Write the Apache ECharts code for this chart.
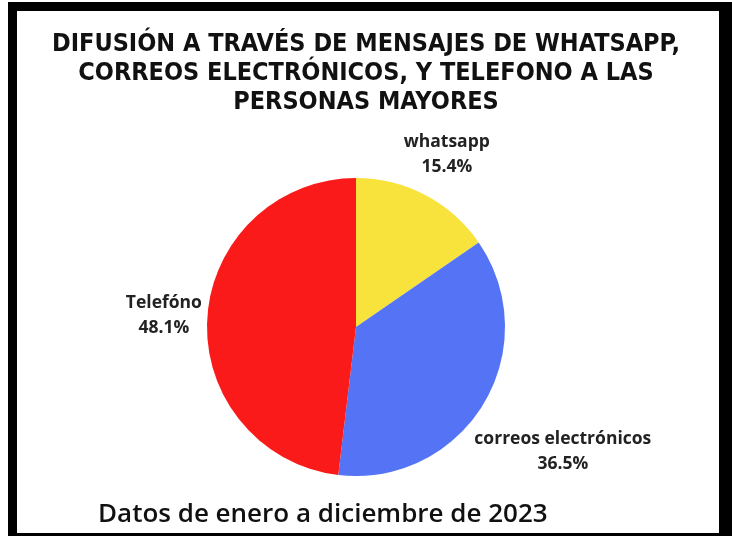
<!DOCTYPE html>
<html>
<head>
<meta charset="utf-8">
<script src="https://cdn.jsdelivr.net/npm/echarts@6/dist/echarts.min.js"></script>
<style>
html,body{margin:0;padding:0;background:#fff;}
#c{width:732px;height:536px;}
</style>
</head>
<body>
<div id="c"></div>
<script>
const categories = ['whatsapp', 'correos electrónicos', 'Telefóno'];
const shares = [15.4, 36.5, 48.1];
const sliceColors = ['#f8e23c', '#5473f5', '#fb1a1a'];
const titleLines = [
  'DIFUSIÓN A TRAVÉS DE MENSAJES DE WHATSAPP,',
  'CORREOS ELECTRÓNICOS, Y TELEFONO A LAS',
  'PERSONAS MAYORES'
];
const footnote = 'Datos de enero a diciembre de 2023';

const CX = 356, CY = 327, R = 149, GAP = 4;
const total = shares.reduce((a, b) => a + b, 0);
const midAngles = [];
let acc = 0;
shares.forEach(v => { midAngles.push((acc + v / 2) / total * 2 * Math.PI); acc += v; });

const chart = echarts.init(document.getElementById('c'), null, {renderer: 'canvas'});
const option = {
  animation: false,
  backgroundColor: '#fff',
  title: {
    text: titleLines.join('\n'),
    left: 'center',
    top: 30,
    padding: [0, 0, 0, 28],
    textStyle: {
      fontFamily: '"DejaVu Sans Condensed", "DejaVu Sans"',
      fontWeight: 'bold',
      fontSize: 25,
      lineHeight: 29,
      color: '#111'
    }
  },
  graphic: [
    {type: 'rect', z: -10, silent: true, shape: {x: 8, y: 2, width: 724, height: 534}, style: {fill: '#000'}},
    {type: 'rect', z: -9, silent: true, shape: {x: 17, y: 11, width: 702, height: 522}, style: {fill: '#fff'}},
    {type: 'text', z: 10, x: 98, y: 515, style: {
      text: footnote, fill: '#111', align: 'left', verticalAlign: 'middle',
      font: '600 26px "Open Sans"'
    }}
  ],
  series: [{
    type: 'pie',
    center: [CX, CY],
    radius: [0, R],
    startAngle: 90,
    clockwise: true,
    avoidLabelOverlap: false,
    emphasis: {disabled: true},
    itemStyle: {borderWidth: 0},
    data: categories.map((n, i) => ({name: n, value: shares[i], itemStyle: {color: sliceColors[i]}})),
    label: {
      show: true,
      position: 'outside',
      formatter: p => p.name + '\n' + shares[p.dataIndex].toFixed(1) + '%',
      fontFamily: '"Open Sans"',
      fontWeight: 'bold',
      fontSize: 17.5,
      lineHeight: 25,
      color: '#222'
    },
    labelLine: {show: false},
    labelLayout: function (p) {
      const a = midAngles[p.dataIndex];
      const dx = Math.sin(a), dy = -Math.cos(a);
      const w = p.labelRect.width, h = p.labelRect.height;
      const d = R + GAP + (w / 2) * Math.abs(dx) + (h / 2) * Math.abs(dy);
      return {x: CX + dx * d, y: CY + dy * d, align: 'center', verticalAlign: 'middle'};
    }
  }]
};
chart.setOption(option);
</script>
</body>
</html>
